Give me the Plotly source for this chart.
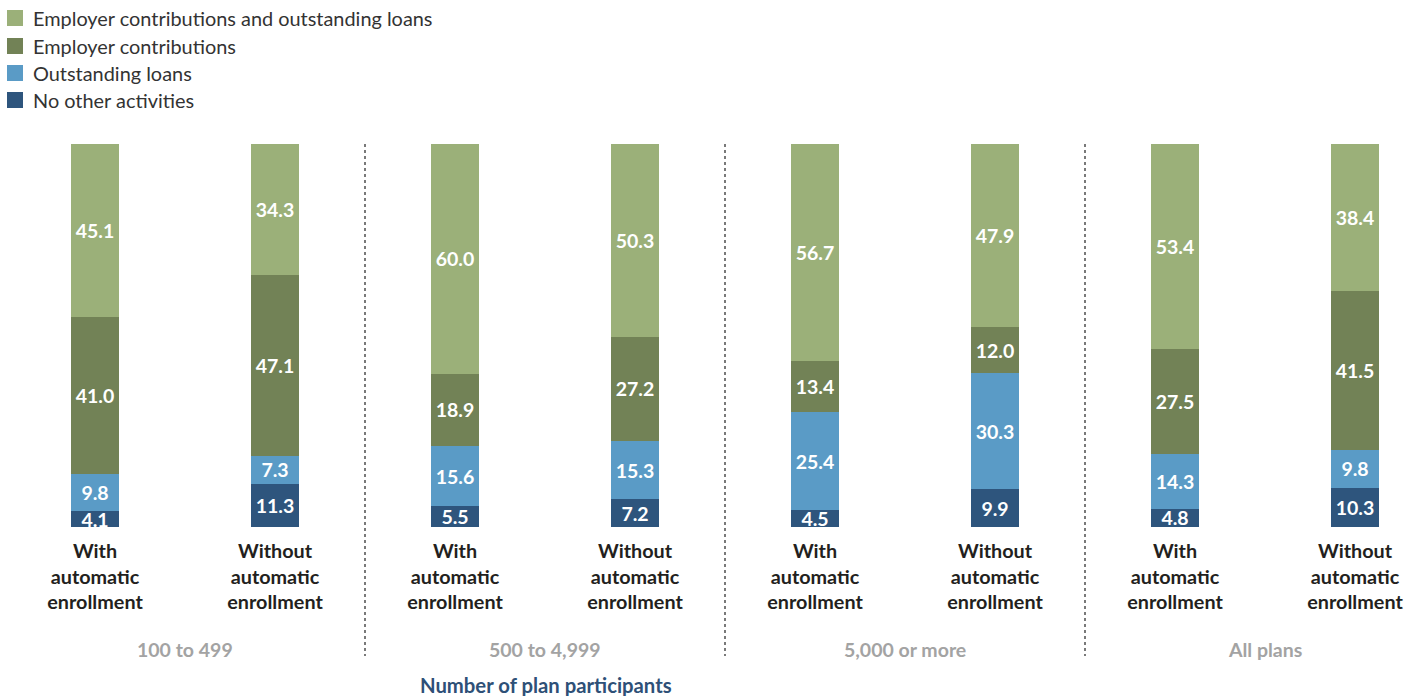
import plotly.graph_objects as go

groups = ["100 to 499", "500 to 4,999", "5,000 or more", "All plans"]
categories = ["With<br>automatic<br>enrollment", "Without<br>automatic<br>enrollment"] * 4
series_names = ["No other activities", "Outstanding loans", "Employer contributions",
                "Employer contributions and outstanding loans"]
no_other = [4.1, 11.3, 5.5, 7.2, 4.5, 9.9, 4.8, 10.3]
loans = [9.8, 7.3, 15.6, 15.3, 25.4, 30.3, 14.3, 9.8]
employer = [41.0, 47.1, 18.9, 27.2, 13.4, 12.0, 27.5, 41.5]
both = [45.1, 34.3, 60.0, 50.3, 56.7, 47.9, 53.4, 38.4]
series_values = [no_other, loans, employer, both]
colors = ["#2E557D", "#5A9BC6", "#728256", "#9BB079"]
axis_title = "Number of plan participants"

W, H = 1417, 696
top, bottom = 144, 527
ph = bottom - top
FONT = "Lato"

def py(p):
    return (bottom - p) / ph

xs = list(range(len(categories)))
fig = go.Figure()
for name, vals, col in zip(series_names, series_values, colors):
    fig.add_trace(go.Bar(
        x=xs, y=vals, name=name, marker_color=col, marker_line_width=0,
        width=0.267, text=[f"{v:.1f}" for v in vals], textposition="inside",
        insidetextanchor="middle", textangle=0,
        textfont=dict(family=FONT, size=19.5, color="white", weight="bold"),
        showlegend=False, hoverinfo="skip"))

shapes = []
annotations = []
for d in [1.5, 3.5, 5.5]:
    shapes.append(dict(type="line", xref="x", yref="paper", x0=d, x1=d, y0=1, y1=py(656),
                       line=dict(color="#333333", width=1.3, dash="dot")))
for i, g in enumerate(groups):
    annotations.append(dict(x=2 * i + 0.5, xref="x", y=py(649), yref="paper", text=g,
                            showarrow=False, yanchor="middle",
                            font=dict(family=FONT, size=19.5, color="#A3A3A3", weight="bold")))
annotations.append(dict(x=546 / W, xref="paper", y=py(685), yref="paper", text=axis_title,
                        showarrow=False, yanchor="middle",
                        font=dict(family=FONT, size=20.3, color="#2E5077", weight="bold")))
# manual legend
leg_y = [18, 46, 73, 100]
for name, col, ly in zip(reversed(series_names), reversed(colors), leg_y):
    shapes.append(dict(type="rect", xref="paper", yref="paper", x0=7 / W, x1=23 / W,
                       y0=py(ly - 8), y1=py(ly + 8), fillcolor=col, line_width=0))
    annotations.append(dict(x=31 / W, xref="paper", y=py(ly), yref="paper", text=name,
                            showarrow=False, xanchor="left", yanchor="middle",
                            font=dict(family=FONT, size=19.9, color="#333333")))

x0 = 95
fig.update_layout(
    width=W, height=H, barmode="stack", plot_bgcolor="white", paper_bgcolor="white",
    margin=dict(l=0, r=0, t=top, b=H - bottom),
    xaxis=dict(range=[-x0 / 180, (W - x0) / 180], tickvals=xs, ticktext=categories,
               showgrid=False, zeroline=False, showline=False, ticks="",
               ticklabelstandoff=10,
               tickfont=dict(family=FONT, size=19.8, color="#231F20", weight="bold")),
    yaxis=dict(range=[0, 100], visible=False),
    shapes=shapes, annotations=annotations,
    uniformtext=dict(minsize=19.5, mode="show"),
)
fig.write_html("out.html")
